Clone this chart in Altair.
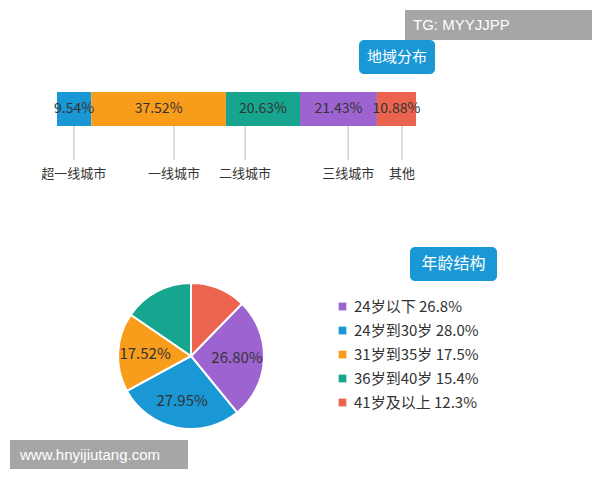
import altair as alt
import pandas as pd
from decimal import Decimal, ROUND_HALF_UP

# ---- data ----
region_cats = ["超一线城市", "一线城市", "二线城市", "三线城市", "其他"]
region_vals = [9.54, 37.52, 20.63, 21.43, 10.88]
region_label_pos = [4.7, 32.6, 52.4, 81.1, 96.1]  # where leader lines point (percent axis)
region_colors = ["#1a98d5", "#f89c1c", "#16a68f", "#9d63d0", "#ec6450"]

age_cats = ["24岁以下", "24岁到30岁", "31岁到35岁", "36岁到40岁", "41岁及以上"]
age_vals = [26.80, 27.95, 17.52, 15.43, 12.30]
age_show_label = [True, True, True, False, False]
age_pie_order = [1, 2, 3, 4, 0]  # clockwise from 12 o'clock: 41岁及以上 first
age_colors = ["#9d63d0", "#1a98d5", "#f89c1c", "#16a68f", "#ec6450"]

FONT = "Noto Sans CJK SC"


def r1(v):
    return Decimal(str(v)).quantize(Decimal("0.1"), rounding=ROUND_HALF_UP)


# ---- tables ----
cum = 0.0
rows = []
for i, (c, v, lp) in enumerate(zip(region_cats, region_vals, region_label_pos)):
    rows.append({"cat": c, "start": cum, "end": cum + v, "mid": cum + v / 2,
                 "txt": f"{v:.2f}%", "lp": lp, "idx": i})
    cum += v
region_df = pd.DataFrame(rows)

age_df = pd.DataFrame({
    "cat": age_cats,
    "value": age_vals,
    "legend": [f"{c} {r1(v)}%" for c, v in zip(age_cats, age_vals)],
    "label": [f"{v:.2f}%" if s else "" for v, s in zip(age_vals, age_show_label)],
    "ord": age_pie_order,
})

xscale = alt.Scale(domain=[0, 100], range=[49, 408])
region_color = alt.Color("cat:N", scale=alt.Scale(domain=region_cats, range=region_colors), legend=None)

bar = alt.Chart(region_df).mark_bar().encode(
    x=alt.X("start:Q", scale=xscale, axis=None),
    x2="end:Q",
    y=alt.value(84),
    y2=alt.value(118),
    color=region_color,
)
bar_text = alt.Chart(region_df).mark_text(fontSize=14, font=FONT, color="#333").encode(
    x=alt.X("mid:Q", scale=xscale, axis=None),
    y=alt.value(101),
    text="txt:N",
)
leaders = alt.Chart(region_df).mark_rule(color="#bbbbbb", strokeWidth=1).encode(
    x=alt.X("lp:Q", scale=xscale, axis=None),
    y=alt.value(118),
    y2=alt.value(152),
)
cat_labels = alt.Chart(region_df).mark_text(fontSize=13, font=FONT, color="#333").encode(
    x=alt.X("lp:Q", scale=xscale, axis=None),
    y=alt.value(166),
    text="cat:N",
)

# ---- pie ----
pie_color = alt.Color(
    "legend:N",
    scale=alt.Scale(domain=list(age_df["legend"]), range=age_colors),
    legend=alt.Legend(
        title=None, orient="none", legendX=327, legendY=291,
        symbolType="square", symbolSize=60, symbolStrokeWidth=0,
        labelFontSize=15, labelFont=FONT, labelColor="#333",
        rowPadding=8, labelOffset=4,
    ),
)
arc = alt.Chart(age_df).mark_arc(outerRadius=73, stroke="white", strokeWidth=2).encode(
    theta=alt.Theta("value:Q", stack=True),
    order=alt.Order("ord:Q"),
    color=pie_color,
    x=alt.value(183),
    y=alt.value(348),
)
arc_text = alt.Chart(age_df).mark_text(radius=46, fontSize=15, font=FONT, color="#333").encode(
    theta=alt.Theta("value:Q", stack=True),
    order=alt.Order("ord:Q"),
    text="label:N",
    x=alt.value(183),
    y=alt.value(348),
)


# ---- badges & watermarks (decorations) ----
def box(x1, x2, y1, y2, fill, radius=0):
    return alt.Chart(pd.DataFrame({"a": [0]})).mark_rect(fill=fill, cornerRadius=radius).encode(
        x=alt.value(x1), x2=alt.value(x2), y=alt.value(y1), y2=alt.value(y2))


def label(txt, x, y, size, align="center", color="white", font=FONT):
    return alt.Chart(pd.DataFrame({"t": [txt]})).mark_text(
        fontSize=size, font=font, color=color, align=align, baseline="middle").encode(
        x=alt.value(x), y=alt.value(y), text="t:N")


badge1 = box(351, 427, 32, 66, "#1a98d5", 5)
badge1_t = label("地域分布", 389, 49, 15)
badge2 = box(402, 489, 239, 273, "#1a98d5", 5)
badge2_t = label("年龄结构", 445.5, 256, 16)
wm1 = box(397, 584, 2, 32, "#a6a6a6")
wm1_t = label("TG: MYYJJPP", 405, 17, 15, align="left", font="Liberation Sans")
wm2 = box(2, 180, 432, 461, "#a6a6a6")
wm2_t = label("www.hnyijiutang.com", 12, 447, 15, align="left", font="Liberation Sans")

chart = alt.layer(
    bar, bar_text, leaders, cat_labels,
    arc, arc_text,
    badge1, badge1_t, badge2, badge2_t,
    wm1, wm1_t, wm2, wm2_t,
).resolve_scale(color="independent").properties(
    width=584, height=464, padding=0,
    autosize=alt.AutoSizeParams(type="none"),
    background="white",
).configure_view(stroke=None)

chart.save("out.html", embed_options={"renderer": "svg", "actions": False})
